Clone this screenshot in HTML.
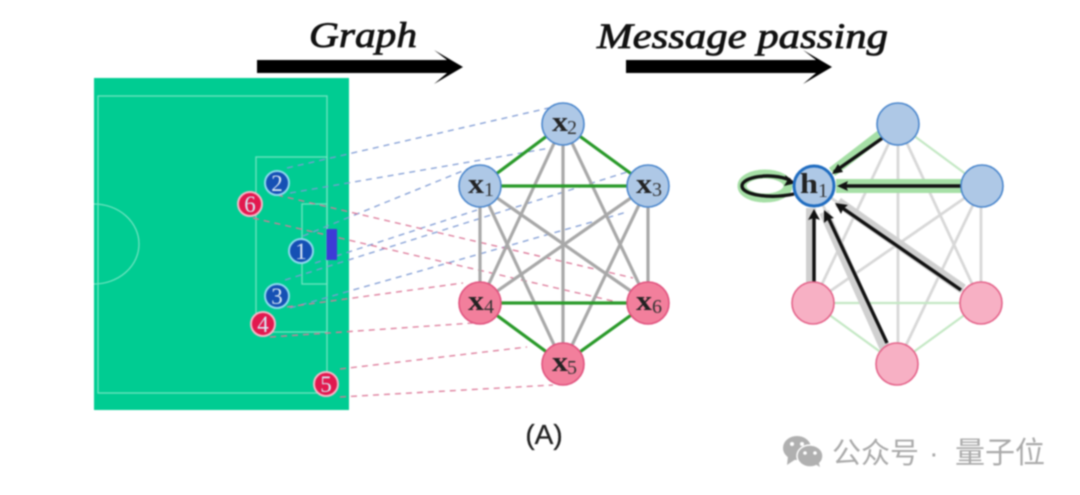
<!DOCTYPE html>
<html>
<head>
<meta charset="utf-8">
<style>
html,body{margin:0;padding:0;background:#fff;width:1080px;height:495px;overflow:hidden}
svg{display:block;filter:blur(0.75px)}
.ti{font-family:"Liberation Serif",serif;font-style:italic;font-weight:normal;fill:#111;stroke:#111;stroke-width:.8}
.x{font-family:"Liberation Serif",serif;font-weight:bold;font-size:29px;fill:#222}
.s{font-family:"Liberation Serif",serif;font-size:20px;fill:#333}
.n{font-family:"Liberation Serif",serif;font-size:23px;fill:#dbe8f5;text-anchor:middle}
.w{font-family:"Liberation Sans","Noto Sans CJK SC",sans-serif;font-size:29px;fill:#aaaaaa}
</style>
</head>
<body>
<svg width="1080" height="495" viewBox="0 0 1080 495" xmlns="http://www.w3.org/2000/svg">
<rect width="1080" height="495" fill="#fff"/>

<!-- titles -->
<text class="ti" x="309" y="47" font-size="36" textLength="108" lengthAdjust="spacingAndGlyphs">Graph</text>
<text class="ti" x="597" y="48" font-size="36" textLength="291" lengthAdjust="spacingAndGlyphs">Message passing</text>
<polygon points="257,60 447,60 434,50 463,67 434,84 447,73 257,73" fill="#000"/>
<polygon points="626,60 816,60 803,50 832,67 803,84 816,73 626,73" fill="#000"/>

<!-- pitch -->
<rect x="94" y="78" width="255" height="332" fill="#00cc92"/>
<g fill="none" stroke="#6fe3c0" stroke-width="1.3">
<rect x="98" y="96" width="229" height="297"/>
<rect x="256" y="157" width="71" height="175"/>
<rect x="302" y="204" width="25" height="80"/>
<path d="M94,204 A45,40 0 0 1 94,284"/>
</g>

<!-- dashed lines -->
<g fill="none" stroke-width="1.3" stroke-dasharray="6 5">
<g stroke="#7f9bd4">
<path d="M287,168 L553,107"/>
<path d="M290,193 L550,148"/>
<path d="M303,236 L470,168"/>
<path d="M315,263 L477,210"/>
<path d="M285,280 L627,172"/>
<path d="M290,308 L627,212"/>
</g>
<g stroke="#dc7898">
<path d="M277,195 L633,278"/>
<path d="M253,218 L617,302"/>
<path d="M287,307 L463,283"/>
<path d="M270,337 L473,323"/>
<path d="M340,369 L527,347"/>
<path d="M340,397 L553,385"/>
</g>
</g>
<rect x="326.5" y="229" width="10.5" height="31" fill="#3d3bd6"/>

<!-- players -->
<g stroke="#8fd8ee" stroke-width="2">
<circle cx="277" cy="183" r="12" fill="#1550b4"/>
<circle cx="301" cy="251" r="12" fill="#1550b4"/>
<circle cx="277" cy="296" r="12" fill="#1550b4"/>
</g>
<g stroke="#f3b9c8" stroke-width="2">
<circle cx="250" cy="204" r="12" fill="#e2194f"/>
<circle cx="263" cy="324" r="12" fill="#e2194f"/>
<circle cx="326" cy="384" r="12" fill="#e2194f"/>
</g>
<text class="n" x="277" y="191">2</text>
<text class="n" x="301" y="259">1</text>
<text class="n" x="277" y="304">3</text>
<text class="n" x="250" y="212">6</text>
<text class="n" x="263" y="332">4</text>
<text class="n" x="326" y="392">5</text>

<!-- middle graph edges -->
<g stroke="#a8a8a8" stroke-width="3.2" fill="none">
<path d="M480,186 L480,303"/>
<path d="M648,186 L648,303"/>
<path d="M563,124 L563,364"/>
<path d="M480,186 L648,303"/>
<path d="M648,186 L480,303"/>
<path d="M563,124 L480,303"/>
<path d="M563,124 L648,303"/>
<path d="M480,186 L563,364"/>
<path d="M648,186 L563,364"/>
</g>
<g stroke="#2a9a2a" stroke-width="3.2" fill="none">
<path d="M480,186 L563,124 L648,186 Z"/>
<path d="M480,303 L563,364 L648,303 Z"/>
</g>
<g stroke="#4a86cc" stroke-width="1.6" fill="#aec8e6">
<circle cx="563" cy="124" r="21"/>
<circle cx="480" cy="186" r="21"/>
<circle cx="648" cy="186" r="21"/>
</g>
<g stroke="#e0527e" stroke-width="1.6" fill="#f27f9c">
<circle cx="480" cy="303" r="21"/>
<circle cx="648" cy="303" r="21"/>
<circle cx="563" cy="364" r="21"/>
</g>
<text class="x" x="552" y="131" textLength="16" lengthAdjust="spacingAndGlyphs">x</text><text class="s" x="567" y="134">2</text>
<text class="x" x="468" y="193" textLength="16" lengthAdjust="spacingAndGlyphs">x</text><text class="s" x="484" y="196">1</text>
<text class="x" x="636" y="193" textLength="16" lengthAdjust="spacingAndGlyphs">x</text><text class="s" x="652" y="196">3</text>
<text class="x" x="468" y="310" textLength="16" lengthAdjust="spacingAndGlyphs">x</text><text class="s" x="484" y="313">4</text>
<text class="x" x="636" y="310" textLength="16" lengthAdjust="spacingAndGlyphs">x</text><text class="s" x="652" y="313">6</text>
<text class="x" x="552" y="371" textLength="16" lengthAdjust="spacingAndGlyphs">x</text><text class="s" x="567" y="374">5</text>

<!-- right graph edges -->
<g stroke="#d8d8d8" stroke-width="2.8" fill="none">
<path d="M981,186 L981,303"/>
<path d="M898,124 L898,364"/>
<path d="M814,186 L981,303"/>
<path d="M982,186 L813,303"/>
<path d="M898,124 L813,303"/>
<path d="M898,124 L981,303"/>
<path d="M814,186 L897,364"/>
<path d="M982,186 L897,364"/>
</g>
<g stroke="#c4e8c4" stroke-width="2.2" fill="none">
<path d="M898,124 L982,186"/>
<path d="M813,303 L981,303"/>
<path d="M813,303 L897,364 L981,303"/>
</g>
<!-- highlights -->
<g stroke="#a6dfa6" fill="none">
<path d="M884,132 L832,172" stroke-width="10"/>
<path d="M965,186 L836,186" stroke-width="14"/>
<ellipse cx="765" cy="186" rx="23" ry="12" stroke-width="9"/>
</g>
<g stroke="#d0d0d0" stroke-width="10" fill="none">
<path d="M811,285 L811,208"/>
<path d="M885,349 L824,212"/>
<path d="M963,289 L838,202"/>
</g>
<!-- arrows -->
<g stroke="#111" stroke-width="3.4" fill="none">
<path d="M884,137 L834,172"/>
<path d="M962,186 L842,186"/>
<path d="M814,283 L814,216"/>
<path d="M887,343 L828,217"/>
<path d="M961,290 L841,207"/>
<path d="M794,194 C770,199 742,195 742,186 C742,177 770,172 790,180"/>
</g>
<g fill="#111">
<polygon points="832,174 838,164 843,172"/>
<polygon points="837,186 848,181 846,186 848,191"/>
<polygon points="814,209 808,220 814,218 820,220"/>
<polygon points="824,210 824,223 829,219 834,218"/>
<polygon points="835,203 841,214 843,209 848,205"/>
<polygon points="796,183 785,175 787,181 784,186"/>
</g>
<g stroke="#4a86cc" stroke-width="1.6" fill="#aec8e6">
<circle cx="898" cy="124" r="21"/>
<circle cx="982" cy="186" r="21"/>
</g>
<circle cx="814" cy="186" r="20" stroke="#1f6cc0" stroke-width="3" fill="#aec8e6"/>
<g stroke="#e4638a" stroke-width="1.6" fill="#f7b0c4">
<circle cx="813" cy="303" r="21"/>
<circle cx="981" cy="303" r="21"/>
<circle cx="897" cy="364" r="21"/>
</g>
<text class="x" x="800" y="193" font-size="28" textLength="18" lengthAdjust="spacingAndGlyphs">h</text><text class="s" x="818" y="197" font-size="16">1</text>

<!-- (A) -->
<text x="544" y="444" font-family="'Liberation Sans',sans-serif" font-size="28" text-anchor="middle" fill="#222" stroke="#222" stroke-width=".3">(A)</text>

<!-- watermark -->
<g fill="#b0b0b0">
<ellipse cx="797" cy="448" rx="14" ry="12"/>
<polygon points="788,456 787,465 796,459"/>
</g>
<g>
<ellipse cx="810" cy="456" rx="13" ry="11" fill="#b0b0b0" stroke="#fff" stroke-width="1.5"/>
<polygon points="815,464 820,467 818,460" fill="#b0b0b0"/>
<circle cx="792" cy="444" r="2" fill="#fff"/><circle cx="802" cy="444" r="2" fill="#fff"/>
<circle cx="805" cy="453" r="1.8" fill="#fff"/><circle cx="815" cy="453" r="1.8" fill="#fff"/>
</g>
<text class="w" x="832" y="463">公众号</text>
<text class="w" x="929" y="463">·</text>
<text class="w" x="955" y="463" font-size="30" style="font-size:30px">量子位</text>
</svg>
</body>
</html>
